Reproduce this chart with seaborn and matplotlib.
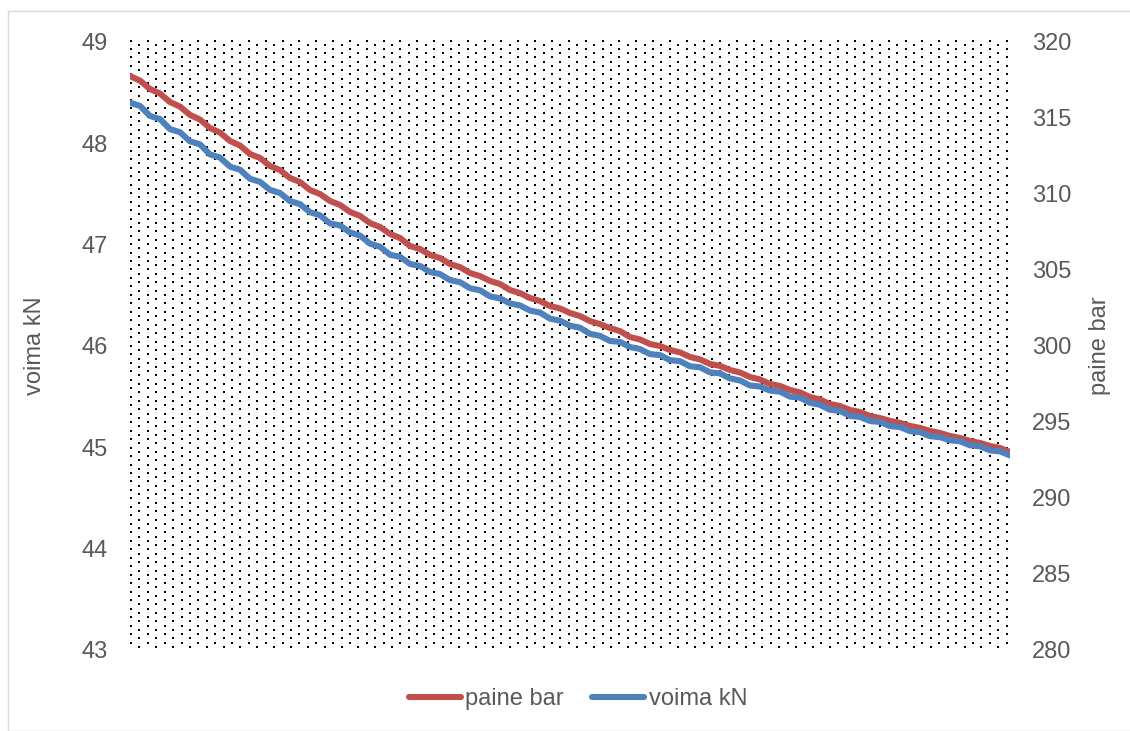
import numpy as np
import pandas as pd
import matplotlib
matplotlib.use("Agg")
import matplotlib.pyplot as plt
import seaborn as sns
from matplotlib.patches import Rectangle

# Measured series (one reading per sample step)
paine_bar = [317.76, 317.46, 316.91, 316.61, 316.05, 315.75, 315.20, 314.90, 314.34, 314.04,
             313.49, 313.19, 312.63, 312.37, 311.84, 311.58, 311.05, 310.79, 310.26, 310.00,
             309.54, 309.28, 308.82, 308.56, 308.09, 307.83, 307.37, 307.11, 306.58, 306.38,
             305.99, 305.79, 305.39, 305.19, 304.80, 304.60, 304.28, 304.08, 303.68, 303.48,
             303.16, 302.96, 302.63, 302.47, 302.17, 301.97, 301.64, 301.44, 301.18, 300.98,
             300.59, 300.43, 300.13, 300.00, 299.74, 299.58, 299.28, 299.12, 298.82, 298.69,
             298.42, 298.26, 297.96, 297.80, 297.50, 297.37, 297.11, 296.95, 296.64, 296.48,
             296.18, 296.05, 295.79, 295.66, 295.39, 295.26, 295.07, 294.94, 294.74, 294.61,
             294.41, 294.28, 294.08, 293.95, 293.75, 293.62, 293.42, 293.29, 293.03]
voima_kn = [48.40, 48.37, 48.27, 48.24, 48.14, 48.11, 48.02, 47.99, 47.89, 47.86,
            47.77, 47.74, 47.65, 47.62, 47.54, 47.51, 47.43, 47.40, 47.32, 47.29,
            47.21, 47.19, 47.12, 47.09, 47.01, 46.98, 46.90, 46.88, 46.81, 46.79,
            46.73, 46.71, 46.65, 46.63, 46.57, 46.55, 46.49, 46.47, 46.42, 46.40,
            46.35, 46.33, 46.27, 46.25, 46.20, 46.18, 46.12, 46.10, 46.05, 46.04,
            45.99, 45.97, 45.92, 45.91, 45.86, 45.85, 45.80, 45.79, 45.74, 45.73,
            45.68, 45.66, 45.61, 45.60, 45.56, 45.55, 45.50, 45.49, 45.44, 45.42,
            45.37, 45.36, 45.31, 45.30, 45.26, 45.25, 45.21, 45.20, 45.16, 45.15,
            45.11, 45.10, 45.07, 45.06, 45.02, 45.01, 44.97, 44.96, 44.92]
sample_p = list(range(len(paine_bar)))
sample_v = list(range(len(voima_kn)))

voima_ticks = [43, 44, 45, 46, 47, 48, 49]
paine_ticks = [280, 285, 290, 295, 300, 305, 310, 315, 320]

RED = "#C0504D"
BLUE = "#4F81BD"
TEXT = "#595959"
FS = 17
LW = 4.4

sns.set_theme(style="white")
plt.rcParams["font.family"] = ["Liberation Sans", "DejaVu Sans"]

W, H = 1130, 731
fig = plt.figure(figsize=(W / 100, H / 100), dpi=100)
fig.patch.set_facecolor("white")

# chart frame
fig.patches.append(Rectangle((8 / W, 0), 2.0, 1 - 11 / H, transform=fig.transFigure,
                             fill=False, edgecolor="#D9D9D9", linewidth=1.0))

ax = fig.add_axes([130 / W, 1 - 650 / H, 880 / W, 608 / H])
ax.set_facecolor("white")
ax2 = ax.twinx()

# dotted fill of the plot area (staggered dot lattice)
cols = np.arange(105)
rows = np.arange(144)
cc, rr = np.meshgrid(cols, rows)
mask = (cc + rr) % 2 == 0
px = 131 + 8.42 * cc[mask]
py = 40.5 + 4.24 * rr[mask]
ax.scatter((px - 130) / 880, (650 - py) / 608, transform=ax.transAxes, marker="s",
           s=2.4, color="black", linewidths=0, zorder=0.5, clip_on=False)

# pressure, right-hand scale
df_p = pd.DataFrame({"sample": sample_p, "paine bar": paine_bar})
sns.lineplot(data=df_p, x="sample", y="paine bar", ax=ax, color=RED, linewidth=LW,
             label="paine bar", legend=False, zorder=2)
ax.lines[-1].set_solid_capstyle("round")
ax.lines[-1].set_solid_joinstyle("round")

# force, left-hand scale
df_v = pd.DataFrame({"sample": sample_v, "voima kN": voima_kn})
sns.lineplot(data=df_v, x="sample", y="voima kN", ax=ax2, color=BLUE, linewidth=LW,
             label="voima kN", legend=False, zorder=2)
ax2.lines[-1].set_solid_capstyle("round")
ax2.lines[-1].set_solid_joinstyle("round")

ax.set_ylim(280, 320)
ax.set_yticks(paine_ticks)
ax.yaxis.set_ticks_position("right")
ax.yaxis.set_label_position("right")
ax.set_ylabel("paine bar", fontsize=FS, color=TEXT, va="center")
ax.yaxis.set_label_coords(1.102, 0.5)

ax2.set_ylim(43, 49)
ax2.set_yticks(voima_ticks)
ax2.yaxis.set_ticks_position("left")
ax2.yaxis.set_label_position("left")
ax2.set_ylabel("voima kN", fontsize=FS, color=TEXT, va="center")
ax2.yaxis.set_label_coords(-0.108, 0.5)

for a in (ax, ax2):
    a.set_xlim(0, len(sample_p) - 1)
    a.set_xticks([])
    a.set_xlabel("")
    for s in a.spines.values():
        s.set_visible(False)
    a.tick_params(axis="y", length=0, labelsize=FS, labelcolor=TEXT, pad=16)

handles = [ax.lines[-1], ax2.lines[-1]]
leg = fig.legend(handles, ["paine bar", "voima kN"], loc="center",
                 bbox_to_anchor=(578 / W, 1 - 699 / H), ncol=2, frameon=False,
                 fontsize=FS, handlelength=2.2, handletextpad=0.2, columnspacing=1.2,
                 borderaxespad=0)
for t in leg.get_texts():
    t.set_color(TEXT)

fig.savefig("out.png", dpi=100)
